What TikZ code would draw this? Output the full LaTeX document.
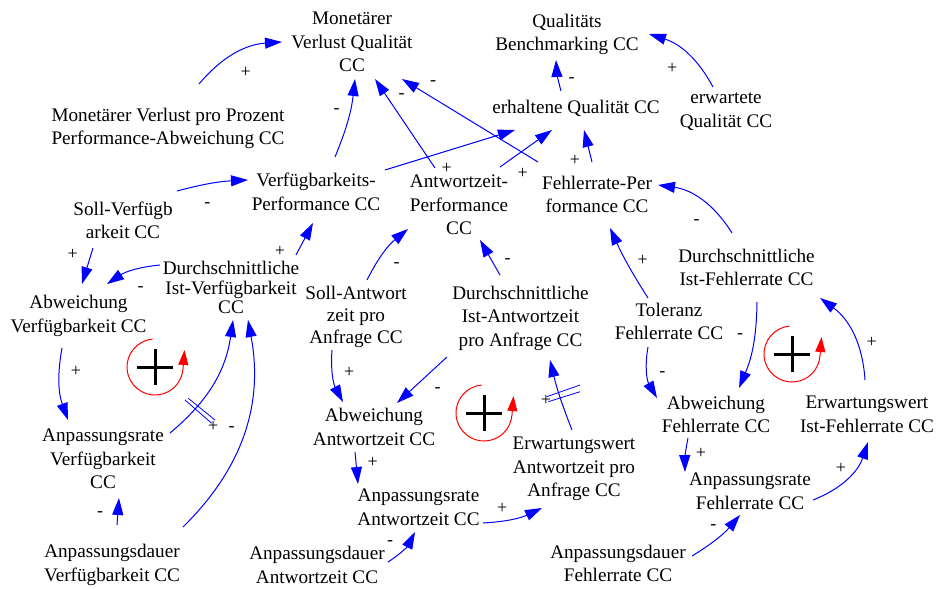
\documentclass[tikz,border=0pt]{standalone}
\usepackage{fontspec}
\setmainfont{Liberation Serif}
\usetikzlibrary{arrows.meta,calc}
\begin{document}
\begin{tikzpicture}[x=1pt,y=1pt,
  var/.style={align=center, inner sep=0pt, font=\fontsize{19.2}{23.5}\selectfont},
  lnk/.style={blue, line width=1pt, -{Triangle[length=17pt,width=11pt]}},
  pol/.style={inner sep=0pt, font=\fontsize{18}{18}\selectfont},
  loopc/.style={red, line width=1pt},
  looptip/.style={red, line width=1pt, -{Triangle[length=15pt,width=10pt]}},
  loopplus/.style={black, line width=3pt},
  dly/.style={blue, line width=0.8pt}]
\useasboundingbox (0,0) rectangle (940,-589);

% variables
\node[var] (n1) at (352,-42) {Monetärer\\Verlust Qualität\\CC};
\node[var] (n2) at (567,-34.5) {Qualitäts\\Benchmarking CC};
\node[var] (n3) at (168,-128.5) {Monetärer Verlust pro Prozent\\Performance-Abweichung CC};
\node[var] (n4) at (576,-108) {erhaltene Qualität CC};
\node[var] (n5) at (726,-111.5) {erwartete\\Qualität CC};
\node[var] (n6) at (316,-192) {Verfügbarkeits-\\Performance CC};
\node[var] (n7) at (459,-205) {Antwortzeit-\\Performance\\CC};
\node[var] (n8) at (597,-194.5) {Fehlerrate-Per\\formance CC};
\node[var] (n9) at (123,-220.5) {Soll-Verfügb\\arkeit CC};
\node[var,font=\fontsize{19.2}{19.5}\selectfont] (n10) at (231,-287.5) {Durchschnittliche\\Ist-Verfügbarkeit\\CC};
\node[var] (n11) at (78.5,-316) {Abweichung\\Verfügbarkeit CC};
\node[var] (n12) at (746.5,-267.5) {Durchschnittliche\\Ist-Fehlerrate CC};
\node[var,font=\fontsize{19.2}{22}\selectfont] (n13) at (356,-317) {Soll-Antwort\\zeit pro\\Anfrage CC};
\node[var] (n14) at (520.5,-318) {Durchschnittliche\\Ist-Antwortzeit\\pro Anfrage CC};
\node[var] (n15) at (669,-321.5) {Toleranz\\Fehlerrate CC};
\node[var] (n16) at (103,-459) {Anpassungsrate\\Verfügbarkeit\\CC};
\node[var] (n17) at (374,-427) {Abweichung\\Antwortzeit CC};
\node[var] (n18) at (716,-414.5) {Abweichung\\Fehlerrate CC};
\node[var] (n19) at (867,-414.5) {Erwartungswert\\Ist-Fehlerrate CC};
\node[var] (n20) at (574,-469) {Erwartungswert\\Antwortzeit pro\\Anfrage CC};
\node[var] (n21) at (418.5,-507.5) {Anpassungsrate\\Antwortzeit CC};
\node[var] (n22) at (750,-491.5) {Anpassungsrate\\Fehlerrate CC};
\node[var] (n23) at (112,-565) {Anpassungsdauer\\Verfügbarkeit CC};
\node[var] (n24) at (317,-565) {Anpassungsdauer\\Antwortzeit CC};
\node[var] (n25) at (618,-563.5) {Anpassungsdauer\\Fehlerrate CC};

% connectors
\draw[lnk] ($(n3)+(31,44.5)$) to[bend left=23] ($(n1)+(-70,0)$);
\draw[lnk] ($(n6)+(19,35)$) to[bend right=8] ($(n1)+(3,-37)$);
\draw[lnk] ($(n7)+(-24,37)$) -- ($(n1)+(23,-37)$);
\draw[lnk] ($(n8)+(-59,32.5)$) -- ($(n1)+(50,-37)$);
\draw[lnk] ($(n6)+(69,22)$) -- ($(n4)+(-61,-22)$);
\draw[lnk] ($(n7)+(41,38)$) -- ($(n4)+(-24,-22)$);
\draw[lnk] ($(n8)+(-5,32.5)$) -- ($(n4)+(8,-22)$);
\draw[lnk] ($(n4)+(-15,17)$) to[bend left=6] ($(n2)+(-11,-25.5)$);
\draw[lnk] ($(n5)+(-13,24.5)$) to[bend right=22] ($(n2)+(82,0.5)$);
\draw[lnk] ($(n9)+(54,29.5)$) to[bend left=6] ($(n6)+(-68,12)$);
\draw[lnk] ($(n9)+(-30,-27.5)$) -- ($(n11)+(3.5,32)$);
\draw[lnk] ($(n10)+(-71,22.5)$) to[bend right=14] ($(n11)+(28.5,32)$);
\draw[lnk] ($(n10)+(65,32.5)$) -- ($(n6)+(-3,-31)$);
\draw[lnk] ($(n13)+(11,37)$) to[bend left=12] ($(n7)+(-51,-24)$);
\draw[lnk] ($(n14)+(-20.5,43)$) -- ($(n7)+(21,-35)$);
\draw[lnk] ($(n13)+(-24,-33)$) to[bend right=16] ($(n17)+(-31,25)$);
\draw[lnk] ($(n14)+(-73.5,-39)$) -- ($(n17)+(23,24)$);
\draw[lnk] ($(n17)+(-19,-25)$) -- ($(n21)+(-60.5,23.5)$);
\draw[lnk] ($(n24)+(71,3)$) to[bend right=15] ($(n21)+(-3.5,-24.5)$);
\draw[lnk] ($(n21)+(64.5,-15.5)$) to[bend right=11] ($(n20)+(-32,-39)$);
\draw[lnk] ($(n20)+(-2,39)$) to[bend left=4] ($(n14)+(29.5,-42)$);
\draw[lnk] ($(n16)+(67,26)$) to[bend right=21] ($(n10)+(2,-32.5)$);
\draw[lnk] ($(n23)+(71,38)$) to[bend right=28] ($(n10)+(17,-32.5)$);
\draw[lnk] ($(n11)+(-16.5,-32)$) to[bend right=15] ($(n16)+(-35,39)$);
\draw[lnk] ($(n23)+(5,40)$) -- ($(n16)+(16,-39)$);
\draw[lnk] ($(n12)+(-14.5,34.5)$) to[bend right=25] ($(n8)+(61,9.5)$);
\draw[lnk] ($(n15)+(-21,23.5)$) to[bend left=4] ($(n8)+(13,-33.5)$);
\draw[lnk] ($(n15)+(-21,-25.5)$) to[bend right=20] ($(n18)+(-59,16.5)$);
\draw[lnk] ($(n12)+(10.5,-34.5)$) to[bend left=11] ($(n18)+(23,26.5)$);
\draw[lnk] ($(n18)+(-28,-23.5)$) to[bend right=6] ($(n22)+(-65,19.5)$);
\draw[lnk] ($(n25)+(74,7.5)$) to[bend right=9] ($(n22)+(-10,-23.5)$);
\draw[lnk] ($(n22)+(63,-8.5)$) to[bend right=25] ($(n19)+(1,-27.5)$);
\draw[lnk] ($(n19)+(-2,34.5)$) to[bend right=25] ($(n12)+(73.5,-30.5)$);

% delay marks
\draw[dly] (185,-400) -- (211.7,-423.3);
\draw[dly] (188.3,-398.3) -- (215,-420);
\draw[dly] (546.7,-396.7) -- (580,-385);
\draw[dly] (548.3,-401.7) -- (580,-391.7);

% polarity labels
\node[pol] (p1) at (245.7,-72.7) {+};
\node[pol] (p2) at (336.7,-111.5) {-};
\node[pol] (p3) at (401.7,-95.8) {-};
\node[pol] (p4) at (433,-83.5) {-};
\node[pol] (p5) at (446.7,-168.5) {+};
\node[pol] (p6) at (522.7,-173.3) {+};
\node[pol] (p7) at (575,-160.3) {+};
\node[pol] (p8) at (571.7,-80.5) {-};
\node[pol] (p9) at (672.3,-68.3) {+};
\node[pol] (p10) at (207.3,-204.8) {-};
\node[pol] (p11) at (72.7,-254) {+};
\node[pol] (p12) at (140.7,-288.8) {-};
\node[pol] (p13) at (280,-251.7) {+};
\node[pol] (p14) at (396.7,-264.8) {-};
\node[pol] (p15) at (507.7,-260.8) {-};
\node[pol] (p16) at (349.3,-372.3) {+};
\node[pol] (p17) at (437.7,-389.8) {-};
\node[pol] (p18) at (372.7,-462.7) {+};
\node[pol] (p19) at (390,-543.2) {-};
\node[pol] (p20) at (502.3,-508.3) {+};
\node[pol] (p21) at (546,-400) {+};
\node[pol] (p22) at (213.3,-426) {+};
\node[pol] (p23) at (231.7,-429.2) {-};
\node[pol] (p24) at (76,-371.7) {+};
\node[pol] (p25) at (100,-514.2) {-};
\node[pol] (p26) at (696.7,-222.2) {-};
\node[pol] (p27) at (642.7,-260.7) {+};
\node[pol] (p28) at (662.3,-374.2) {-};
\node[pol] (p29) at (740,-336.5) {-};
\node[pol] (p30) at (701,-453.3) {+};
\node[pol] (p31) at (713.3,-527.2) {-};
\node[pol] (p32) at (841,-468.3) {+};
\node[pol] (p33) at (871.7,-342.3) {+};

% loop symbols
\coordinate (L1) at (155,-367);
\coordinate (L2) at (484,-413);
\coordinate (L3) at (792,-354);
\foreach \c in {L1,L2,L3}{
  \draw[loopc] ($(\c)+(95:28)$) arc[start angle=95,end angle=356,radius=28];
  \draw[looptip] ($(\c)+(28,-2)$) -- ($(\c)+(29.5,17)$);
  \draw[loopplus] ($(\c)+(-18,0)$) -- ($(\c)+(18,0)$);
  \draw[loopplus] ($(\c)+(0,-18)$) -- ($(\c)+(0,18)$);
}
\end{tikzpicture}
\end{document}
